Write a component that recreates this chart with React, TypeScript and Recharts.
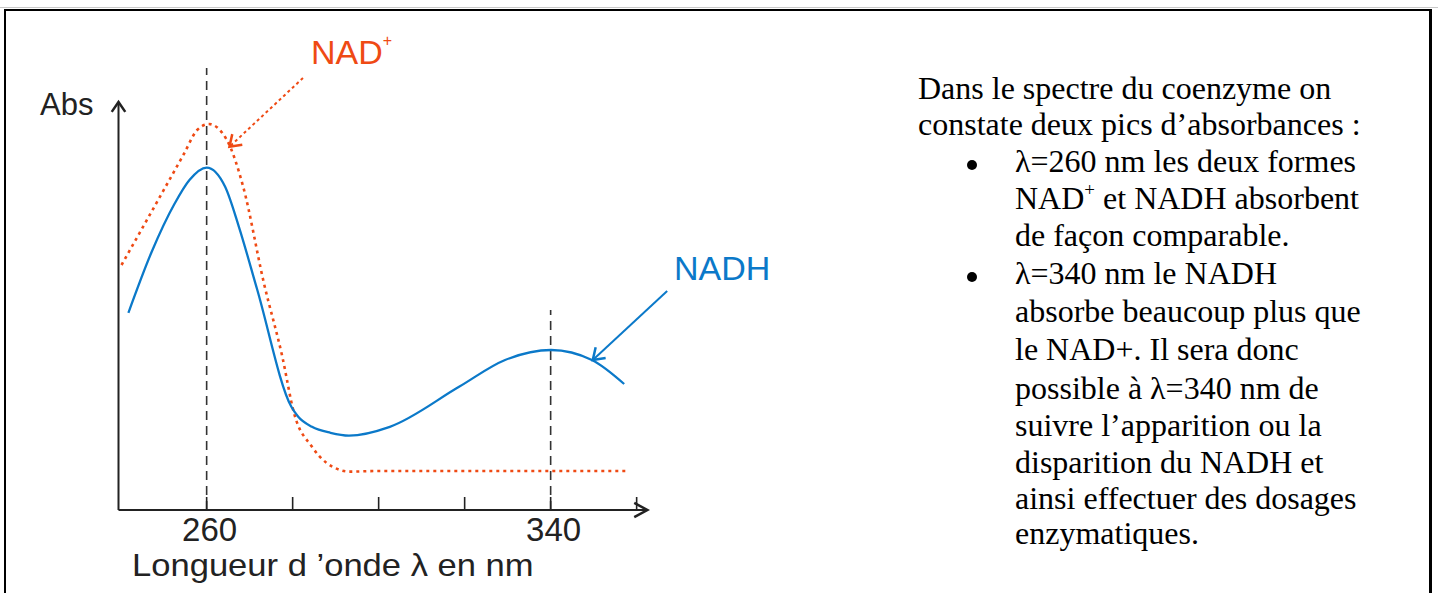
import React from 'react';
import { LineChart, Line, XAxis, YAxis, ReferenceLine } from 'recharts';

// wavelength (nm) / absorbance (arbitrary units)
const nadhNm = [241.8, 247.2, 252.5, 256, 260, 264.3, 267.5, 271.7, 279.7, 281.3, 284.5, 288.8, 293.1, 302.6, 318.7, 329.4, 340.1, 349.6, 357.1];
const nadhAbs = [49.3, 64.5, 76.5, 82.5, 85.6, 80.8, 70.8, 55.3, 25.8, 23.3, 20.8, 19.3, 18.6, 20.8, 30.8, 37.5, 40, 37.5, 31.5];

const nadNm = [240.2, 247.2, 254.7, 257.8, 260.5, 264.7, 268.5, 273.3, 277.6, 280.3, 284.5, 291, 293.1, 300, 357.7];
const nadAbs = [61.25, 74.6, 89, 95, 96.5, 92.5, 80.8, 56.8, 38.3, 24.3, 15.8, 10, 9.6, 9.75, 9.75];

const xTicks = [260, 280, 300, 320, 340, 360];
const xLabelled = [260, 340];
const xDomain = [239.5, 362.5];
const yDomain = [0, 102];

// guide lines: [nm, top abs]
const peakGuides = [
  [260, 110.5],
  [340, 50],
];

// annotation arrows: [fromNm, fromAbs, toNm, toAbs]
const nadArrow = [282.4, 108, 265.3, 90.8];
const nadhArrow = [367.1, 54.75, 349.8, 37.5];

const textLines = [
  { text: 'Dans le spectre du coenzyme on', indent: false, bullet: false },
  { text: 'constate deux pics d’absorbances :', indent: false, bullet: false },
  { text: 'λ=260 nm les deux formes', indent: true, bullet: true },
  { text: 'NAD+ et NADH absorbent', indent: true, bullet: false, sup: true },
  { text: 'de façon comparable.', indent: true, bullet: false },
  { text: 'λ=340 nm le NADH', indent: true, bullet: true },
  { text: 'absorbe beaucoup plus que', indent: true, bullet: false },
  { text: 'le NAD+. Il sera donc', indent: true, bullet: false },
  { text: 'possible à λ=340 nm de', indent: true, bullet: false },
  { text: 'suivre l’apparition ou la', indent: true, bullet: false },
  { text: 'disparition du NADH et', indent: true, bullet: false },
  { text: 'ainsi effectuer des dosages', indent: true, bullet: false },
  { text: 'enzymatiques.', indent: true, bullet: false },
];
const textBaselines = [99, 135, 172, 209, 246, 284, 322, 360, 399, 436, 473, 509, 544];

const nadhData = nadhNm.map((nm, i) => ({ nm, abs: nadhAbs[i] }));
const nadData = nadNm.map((nm, i) => ({ nm, abs: nadAbs[i] }));

const BLUE = '#0b79c9';
const RED = '#ef4a14';
const AXIS = '#222';
const SANS = '"Liberation Sans", Arial, sans-serif';
const SERIF = '"Liberation Serif", "Times New Roman", serif';
const SERIF_SIZE = 32;

function ArrowLine(props: any) {
  const { x1, y1, x2, y2, stroke, strokeWidth, strokeDasharray, head = 12, spread = 0.55 } = props;
  const a = Math.atan2(y2 - y1, x2 - x1);
  const ax = x2 - head * Math.cos(a - spread);
  const ay = y2 - head * Math.sin(a - spread);
  const bx = x2 - head * Math.cos(a + spread);
  const by = y2 - head * Math.sin(a + spread);
  return (
    <g>
      <line x1={x1} y1={y1} x2={x2} y2={y2} stroke={stroke} strokeWidth={strokeWidth} strokeDasharray={strokeDasharray} />
      <polyline points={`${ax},${ay} ${x2},${y2} ${bx},${by}`} fill="none" stroke={stroke} strokeWidth={strokeWidth + 0.5} />
    </g>
  );
}

function WaveTick(props: any) {
  const { x, y, payload } = props;
  const base = y - 1;
  const showLabel = xLabelled.includes(payload.value);
  return (
    <g>
      <line x1={x} y1={base - 12} x2={x} y2={base} stroke={AXIS} strokeWidth={1.6} />
      {showLabel && (
        <text x={x + 3} y={base + 32} textAnchor="middle" fontFamily={SANS} fontSize={33} fill={AXIS}>
          {payload.value}
        </text>
      )}
    </g>
  );
}

function sansTop(baseline: number, size: number) {
  return baseline - 0.8465 * size;
}

export default function App() {
  return (
    <div style={{ position: 'relative', width: 1438, height: 593, overflow: 'hidden', background: '#fff' }}>
      <style>{'body{margin:0}'}</style>
      <div style={{ position: 'absolute', left: 0, top: 7, width: 1438, height: 1, background: '#c8c8c8' }} />
      <div
        style={{
          position: 'absolute',
          left: 4,
          top: 9,
          width: 1428,
          height: 700,
          boxSizing: 'border-box',
          borderTop: '2px solid #000',
          borderLeft: '2px solid #000',
          borderRight: '3px solid #000',
        }}
      />

      <div style={{ position: 'absolute', left: 0, top: 0 }}>
        <LineChart width={700} height={593} margin={{ top: 102, right: 52.6, bottom: 82, left: 118.5 }}>
          <XAxis
            type="number"
            dataKey="nm"
            domain={xDomain}
            allowDataOverflow
            ticks={xTicks}
            interval={0}
            height={1}
            axisLine={false}
            tickLine={false}
            tickSize={0}
            tickMargin={0}
            tick={<WaveTick />}
          />
          <YAxis type="number" domain={yDomain} allowDataOverflow ticks={yDomain} hide width={0} />

          {peakGuides.map(([nm, top]) => (
            <ReferenceLine
              key={`guide-${nm}`}
              segment={[{ x: nm, y: 0 }, { x: nm, y: top }]}
              ifOverflow="visible"
              stroke="#333"
              strokeWidth={1.6}
              strokeDasharray="9 6"
            />
          ))}

          <Line data={nadData} dataKey="abs" type="monotone" stroke={RED} strokeWidth={2.6} strokeDasharray="3 4" dot={false} isAnimationActive={false} />
          <Line data={nadhData} dataKey="abs" type="monotone" stroke={BLUE} strokeWidth={2.3} dot={false} isAnimationActive={false} />

          {/* axes with arrow heads */}
          <ReferenceLine
            segment={[{ x: xDomain[0], y: 0 }, { x: xDomain[1], y: 0 }]}
            ifOverflow="visible"
            stroke={AXIS}
            strokeWidth={2}
            shape={(p: any) => <ArrowLine {...p} head={15} spread={0.5} />}
          />
          <ReferenceLine
            segment={[{ x: xDomain[0], y: 0 }, { x: xDomain[0], y: yDomain[1] }]}
            ifOverflow="visible"
            stroke={AXIS}
            strokeWidth={2}
            shape={(p: any) => <ArrowLine {...p} head={12} spread={0.6} />}
          />

          {/* annotation arrows */}
          <ReferenceLine
            segment={[{ x: nadArrow[0], y: nadArrow[1] }, { x: nadArrow[2], y: nadArrow[3] }]}
            ifOverflow="visible"
            stroke={RED}
            strokeWidth={2}
            strokeDasharray="3 3"
            shape={(p: any) => <ArrowLine {...p} head={13} spread={0.6} />}
          />
          <ReferenceLine
            segment={[{ x: nadhArrow[0], y: nadhArrow[1] }, { x: nadhArrow[2], y: nadhArrow[3] }]}
            ifOverflow="visible"
            stroke={BLUE}
            strokeWidth={2}
            shape={(p: any) => <ArrowLine {...p} head={13} spread={0.6} />}
          />
        </LineChart>
      </div>

      {/* chart texts */}
      <div style={{ position: 'absolute', left: 40, top: sansTop(115, 31), fontFamily: SANS, fontSize: 31, lineHeight: '31px', color: AXIS, whiteSpace: 'nowrap' }}>
        Abs
      </div>
      <div style={{ position: 'absolute', left: 311, top: sansTop(64, 34), fontFamily: SANS, fontSize: 34, lineHeight: '34px', color: RED, whiteSpace: 'nowrap' }}>
        NAD<span style={{ fontSize: 16, position: 'relative', top: -18 }}>+</span>
      </div>
      <div style={{ position: 'absolute', left: 674, top: sansTop(280, 34), fontFamily: SANS, fontSize: 34, lineHeight: '34px', color: BLUE, whiteSpace: 'nowrap' }}>
        NADH
      </div>
      <div
        style={{
          position: 'absolute',
          left: 132,
          top: sansTop(576, 32),
          fontFamily: SANS,
          fontSize: 32,
          lineHeight: '32px',
          color: AXIS,
          whiteSpace: 'nowrap',
          transform: 'scaleX(1.08)',
          transformOrigin: 'left',
        }}
      >
        Longueur d ’onde λ en nm
      </div>

      {/* explanatory text */}
      {textLines.map((line, i) => {
        const baseline = textBaselines[i];
        const top = baseline - 0.8375 * SERIF_SIZE;
        return (
          <React.Fragment key={`line-${i}`}>
            {line.bullet && (
              <div style={{ position: 'absolute', left: 967, top: baseline - 12, width: 10, height: 10, borderRadius: '50%', background: '#000' }} />
            )}
            <div
              style={{
                position: 'absolute',
                left: line.indent ? 1015 : 918,
                top,
                fontFamily: SERIF,
                fontSize: SERIF_SIZE,
                lineHeight: `${SERIF_SIZE}px`,
                color: '#000',
                whiteSpace: 'nowrap',
              }}
            >
              {line.sup ? (
                <>
                  NAD<span style={{ fontSize: 19, position: 'relative', top: -13 }}>+</span>
                  {line.text.slice(4)}
                </>
              ) : (
                line.text
              )}
            </div>
          </React.Fragment>
        );
      })}
    </div>
  );
}
